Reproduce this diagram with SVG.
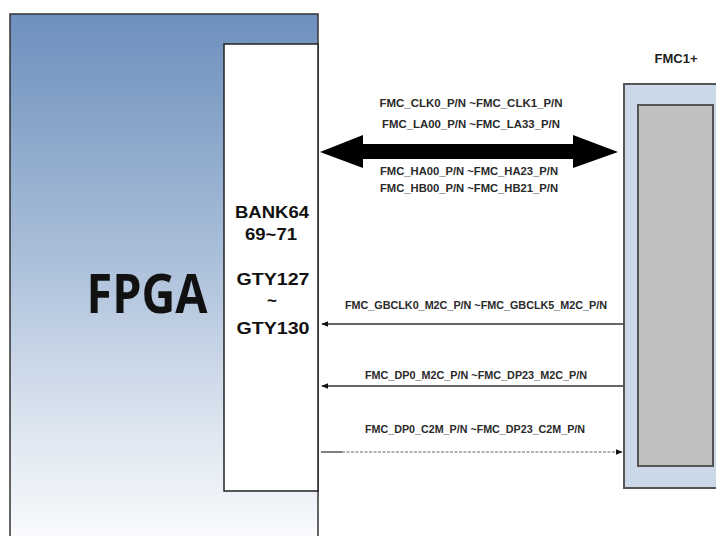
<svg xmlns="http://www.w3.org/2000/svg" width="716" height="536" viewBox="0 0 716 536">
<defs>
<linearGradient id="fpgaGrad" x1="0" y1="0" x2="0" y2="1">
<stop offset="0" stop-color="#6d90bd"/>
<stop offset="0.45" stop-color="#a9bed9"/>
<stop offset="0.75" stop-color="#d8e2ee"/>
<stop offset="1" stop-color="#fbfcfd"/>
</linearGradient>
<marker id="ah" viewBox="0 0 10 10" refX="9" refY="5" markerWidth="7" markerHeight="7" markerUnits="userSpaceOnUse" orient="auto">
<path d="M0,1 L10,5 L0,9 Z" fill="#111"/>
</marker>
</defs>
<style>
.sig{font-family:"Liberation Sans",Arial,sans-serif;font-size:10px;font-weight:bold;fill:#2a2a2a;text-anchor:middle}
.bank{font-family:"Liberation Sans",Arial,sans-serif;font-size:17px;font-weight:bold;fill:#111;text-anchor:middle}
.wire{stroke:#333;stroke-width:1.3;fill:none}
</style>
<rect width="716" height="536" fill="#ffffff"/>

<g id="fpga">
<rect x="10" y="14" width="308" height="530" fill="url(#fpgaGrad)" stroke="#333" stroke-width="1.5"/>
<text x="147" y="313" font-family="'Open Sans','Liberation Sans',sans-serif" font-size="53" font-weight="bold" fill="#111" text-anchor="middle" textLength="121" lengthAdjust="spacingAndGlyphs">FPGA</text>
</g>

<g id="bank">
<rect x="224" y="44" width="94" height="447" fill="#ffffff" stroke="#222" stroke-width="1.5"/>
<text class="bank" x="272" y="218" textLength="74" lengthAdjust="spacingAndGlyphs">BANK64</text>
<text class="bank" x="271" y="240" textLength="52" lengthAdjust="spacingAndGlyphs">69~71</text>
<text class="bank" x="273" y="285" textLength="73" lengthAdjust="spacingAndGlyphs">GTY127</text>
<text class="bank" x="272" y="306" font-size="14">~</text>
<text class="bank" x="273" y="334" textLength="73" lengthAdjust="spacingAndGlyphs">GTY130</text>
</g>

<g id="fmc">
<text x="676" y="63" font-family="Liberation Sans,Arial,sans-serif" font-size="13" font-weight="bold" fill="#222" text-anchor="middle">FMC1+</text>
<rect x="624" y="84" width="100" height="404" fill="#cbd8e8" stroke="#555" stroke-width="2"/>
<rect x="638" y="105" width="75" height="361" fill="#c0c0c0" stroke="#555" stroke-width="2"/>
</g>

<g id="connectors">
<path d="M320,152 L363,135 L363,144 L573,144 L573,135 L618,152 L573,168 L573,159 L363,159 L363,168 Z" fill="#000"/>
<line class="wire" x1="623" y1="324" x2="322" y2="324" marker-end="url(#ah)"/>
<line class="wire" x1="623" y1="386" x2="322" y2="386" marker-end="url(#ah)"/>
<line x1="321" y1="452" x2="342" y2="452" stroke="#555" stroke-width="1.5"/>
<line x1="342" y1="452" x2="622" y2="452" stroke="#666" stroke-width="1.2" stroke-dasharray="3,1.5" marker-end="url(#ah)"/>
</g>

<g id="labels">
<text class="sig" x="471" y="107" textLength="183" lengthAdjust="spacingAndGlyphs">FMC_CLK0_P/N ~FMC_CLK1_P/N</text>
<text class="sig" x="471" y="128" textLength="178" lengthAdjust="spacingAndGlyphs">FMC_LA00_P/N ~FMC_LA33_P/N</text>
<text class="sig" x="469" y="175" textLength="178" lengthAdjust="spacingAndGlyphs">FMC_HA00_P/N ~FMC_HA23_P/N</text>
<text class="sig" x="469" y="192" textLength="178" lengthAdjust="spacingAndGlyphs">FMC_HB00_P/N ~FMC_HB21_P/N</text>
<text class="sig" x="476" y="309" textLength="262" lengthAdjust="spacingAndGlyphs">FMC_GBCLK0_M2C_P/N ~FMC_GBCLK5_M2C_P/N</text>
<text class="sig" x="476" y="379" textLength="222" lengthAdjust="spacingAndGlyphs">FMC_DP0_M2C_P/N ~FMC_DP23_M2C_P/N</text>
<text class="sig" x="475" y="433" textLength="220" lengthAdjust="spacingAndGlyphs">FMC_DP0_C2M_P/N ~FMC_DP23_C2M_P/N</text>
</g>
</svg>
